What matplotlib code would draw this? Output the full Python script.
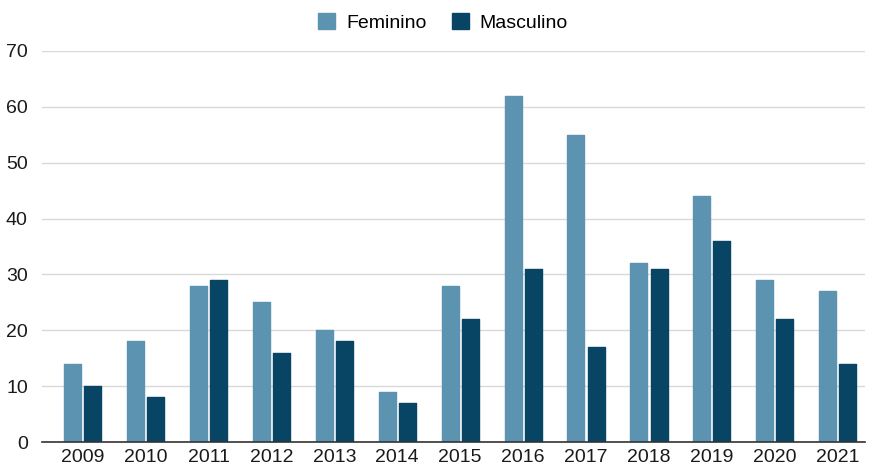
import numpy as np
import matplotlib
matplotlib.use("Agg")
import matplotlib.pyplot as plt

# casos por ano e sexo
anos = ["2009", "2010", "2011", "2012", "2013", "2014", "2015",
        "2016", "2017", "2018", "2019", "2020", "2021"]
feminino = [14, 18, 28, 25, 20, 9, 28, 62, 55, 32, 44, 29, 27]
masculino = [10, 8, 29, 16, 18, 7, 22, 31, 17, 31, 36, 22, 14]

COR_FEM = "#5b93b0"
COR_MASC = "#084565"

plt.rcParams["font.family"] = ["Liberation Sans", "DejaVu Sans"]

fig = plt.figure(figsize=(8.7, 4.67), dpi=100, facecolor="white")
ax = fig.add_axes([0.048, 0.0535, 0.946, 0.8373])

x = np.arange(len(anos))
w = 0.27
off = 0.16
ax.bar(x - off, feminino, w, color=COR_FEM, edgecolor=COR_FEM, linewidth=1,
       joinstyle="round", label="Feminino", zorder=3)
ax.bar(x + off, masculino, w, color=COR_MASC, edgecolor=COR_MASC, linewidth=1,
       joinstyle="round", label="Masculino", zorder=3)

ax.set_ylim(0, 70)
ax.set_xlim(-0.65, 12.43)
ax.set_yticks(range(0, 71, 10))
ax.set_xticks(x)
ax.set_xticklabels(anos)
ax.yaxis.grid(True, color="#d9d9d9", linewidth=1, zorder=0)
ax.tick_params(axis="both", length=0, labelsize=14, colors="#1a1a1a")
ax.tick_params(axis="x", pad=5)
ax.tick_params(axis="y", pad=10)
for s in ["top", "right", "left"]:
    ax.spines[s].set_visible(False)
ax.spines["bottom"].set_color("#333333")
ax.spines["bottom"].set_linewidth(1.2)
ax.spines["bottom"].set_zorder(4)

fig.legend(loc="upper center", bbox_to_anchor=(0.509, 1.01), ncol=2,
           frameon=False, fontsize=14, handlelength=0.9, handleheight=0.9,
           columnspacing=1.3, handletextpad=0.55)

fig.savefig("out.png", dpi=100, facecolor="white")
